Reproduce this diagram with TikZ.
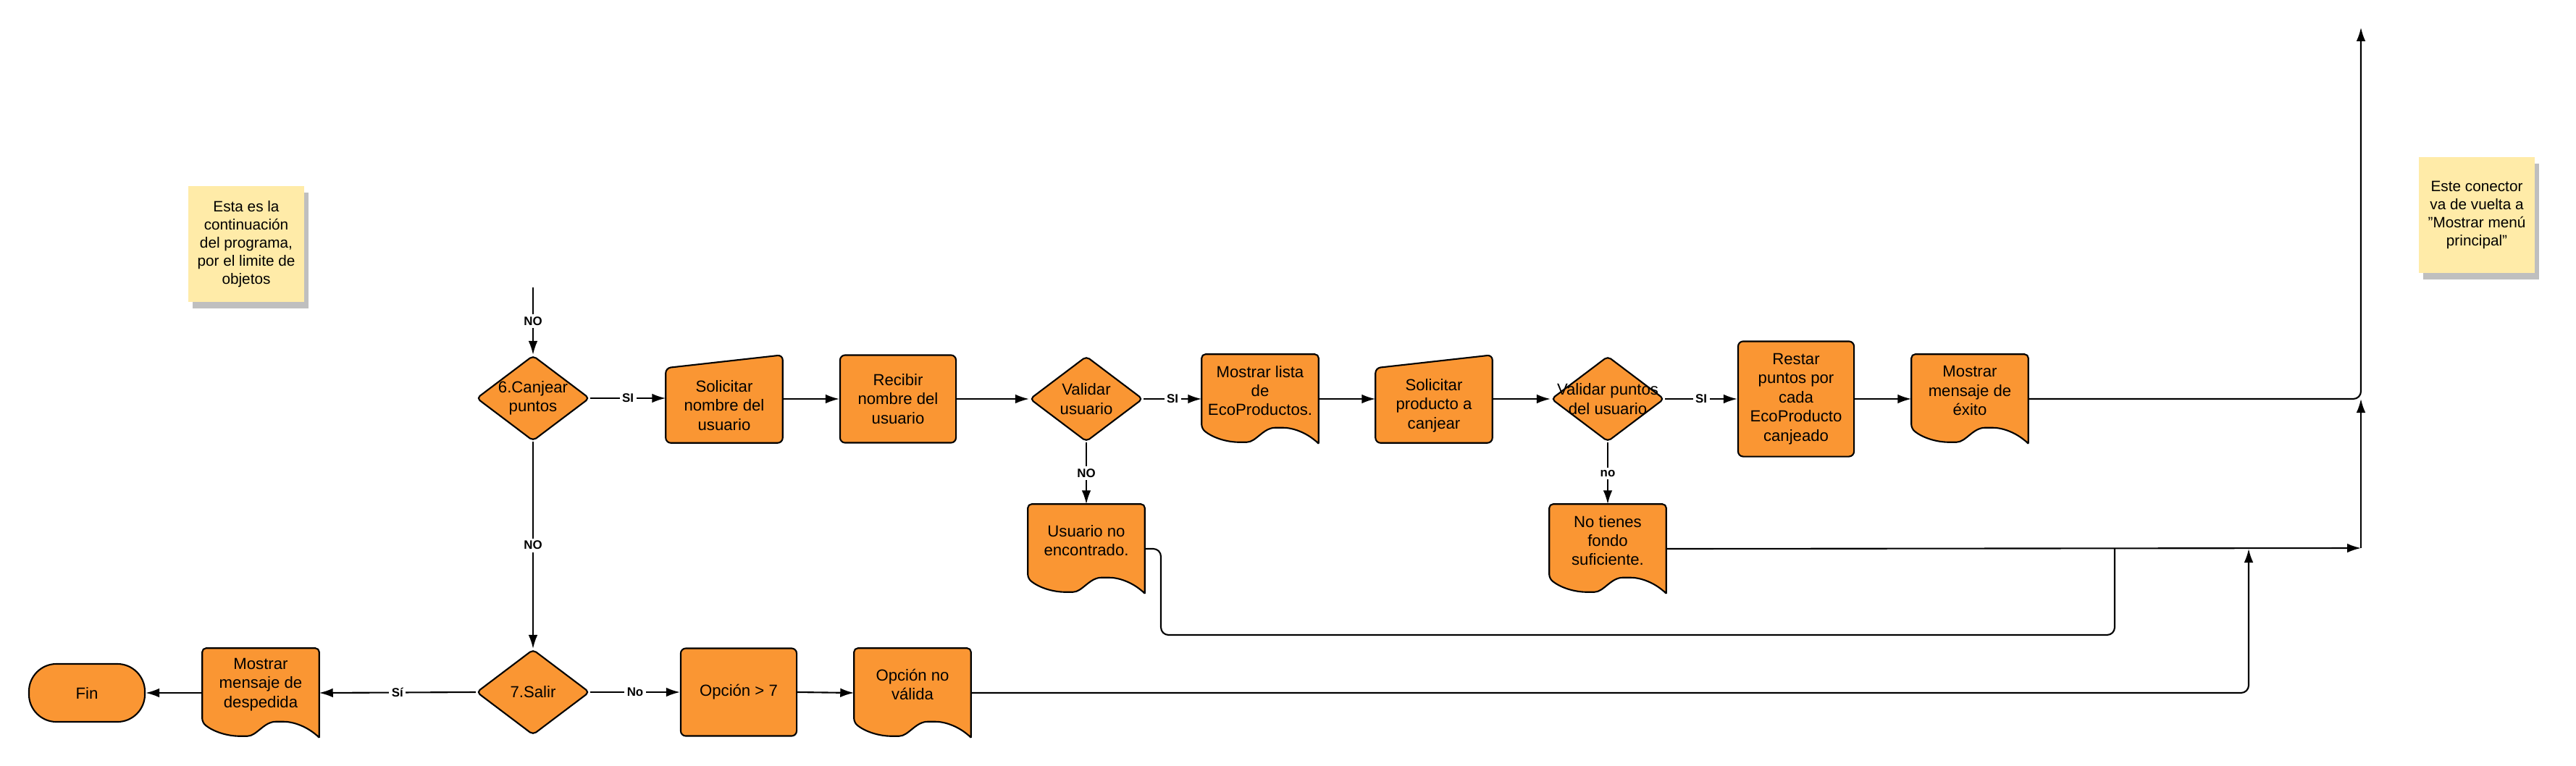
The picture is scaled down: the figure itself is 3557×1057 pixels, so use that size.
\documentclass[tikz,border=0pt]{standalone}
\usepackage{fontspec}
\setmainfont{Liberation Sans}
\usetikzlibrary{shapes.geometric, arrows.meta, calc, backgrounds, shadows}

\definecolor{naranja}{HTML}{FA9633}
\definecolor{amarillonota}{HTML}{FFEBA8}

\newcommand{\textoforma}{\fontsize{6.3}{7.5}\selectfont}
\newcommand{\textonota}{\fontsize{5.9}{7.1}\selectfont}
\newcommand{\textoetiq}{\fontsize{4.8}{5.5}\selectfont\bfseries}

\tikzset{
  forma/.style={fill=naranja, draw=black, line width=0.6pt},
  proceso/.style={forma, rounded corners=2pt, minimum width=1.6cm, minimum height=1.21cm, inner sep=0pt, align=center, font=\textoforma},
  decision/.style={forma, diamond, rounded corners=1.5pt, minimum width=1.56cm, minimum height=1.18cm, inner sep=0pt},
  textodec/.style={align=center, font=\textoforma, inner sep=0pt},
  documento/.style={minimum width=1.6cm, minimum height=1.22cm, inner sep=0pt},
  textodoc/.style={align=center, font=\textoforma, inner sep=0pt, yshift=0.115cm},
  entrada/.style={minimum width=1.6cm, minimum height=1.02cm, inner sep=0pt, align=center, font=\textoforma},
  terminal/.style={forma, rounded corners=0.38cm, minimum width=1.6cm, minimum height=0.8cm, font=\textoforma},
  notabox/.style={fill=amarillonota, minimum width=1.6cm, minimum height=1.6cm, align=center, font=\textonota, inner sep=0pt,
    drop shadow={shadow xshift=0.6mm, shadow yshift=-0.9mm, fill=black, opacity=0.25}},
  flujo/.style={line width=0.6pt, -{Latex[length=5.4pt, width=3.6pt]}},
  linea/.style={line width=0.6pt},
  etiq/.style={font=\textoetiq, fill=white, inner sep=1pt},
}

\begin{document}
\begin{tikzpicture}[x=0.01cm, y=-0.01cm]
  \useasboundingbox (0,0) rectangle (3557,1057);

  % notas
  \node[notabox] (nota1) at (340,337) {Esta es la\\continuación\\del programa,\\por el limite de\\objetos};
  \node[notabox] (nota2) at (3420,297) {Este conector\\va de vuelta a\\"Mostrar menú\\principal"};

  % fila superior
  \node[decision, label={[textodec]center:6.Canjear\\puntos}] (canjear) at (736,550) {};
  \node[entrada] (solnom) at (1000,560) {Solicitar\\nombre del\\usuario};
  \node[proceso] (recibir) at (1240,551) {Recibir\\nombre del\\usuario};
  \node[decision, label={[textodec]center:Validar\\usuario}] (valusu) at (1500,551) {};
  \node[documento, label={[textodoc]center:Mostrar lista\\de\\EcoProductos.}] (lista) at (1740,551) {};
  \node[entrada] (solprod) at (1980,560) {Solicitar\\producto a\\canjear};
  \node[decision, label={[textodec]center:Validar puntos\\del usuario}] (valpun) at (2220,551) {};
  \node[proceso, minimum height=1.59cm] (restar) at (2480,551) {Restar\\puntos por\\cada\\EcoProducto\\canjeado};
  \node[documento, label={[textodoc]center:Mostrar\\mensaje de\\éxito}] (exito) at (2720,551) {};

  % fila media
  \node[documento, label={[textodoc]center:Usuario no\\encontrado.}] (usuario) at (1500,758) {};
  \node[documento, label={[textodoc]center:No tienes\\fondo\\suficiente.}] (fondo) at (2220,758) {};

  % fila inferior
  \node[decision, label={[textodec]center:7.Salir}] (salir) at (736,956) {};
  \node[documento, label={[textodoc]center:Mostrar\\mensaje de\\despedida}] (despedida) at (360,957) {};
  \node[terminal] (fin) at (120,957) {Fin};
  \node[proceso] (mayor7) at (1020,956) {Opción > 7};
  \node[documento, label={[textodoc]center:Opción no\\válida}] (opcnv) at (1260,957) {};

  % formas de documento y entrada manual
  \begin{scope}[on background layer]
    \foreach \n in {lista,exito,usuario,fondo,despedida,opcnv} {
      \filldraw[forma, rounded corners=1.5pt] (\n.south east) -- (\n.north east) -- (\n.north west) -- ($(\n.south west)+(0,-21)$)
        .. controls ($(\n.south west)+(15,-8)$) and ($(\n.south west)+(35,-2)$) .. ($(\n.south west)+(57,-2)$)
        .. controls ($(\n.south west)+(75,-2)$) and ($(\n.south west)+(85,-22)$) .. ($(\n.south west)+(107,-22)$)
        .. controls ($(\n.south west)+(125,-22)$) and ($(\n.south west)+(145,-16)$) .. (\n.south east);
    }
    \foreach \n in {solnom,solprod} {
      \filldraw[forma, rounded corners=2pt] (\n.south west) -- (\n.north west) -- ($(\n.north east)+(0,-18)$) -- (\n.south east) -- cycle;
    }
  \end{scope}

  % puntos libres
  \coordinate (desde) at (736,397);
  \coordinate (menu) at (3260,38);
  \coordinate (j1) at (2920,757);
  \coordinate (r1) at (1603,877);
  \coordinate (j2) at (3105,758);
  \coordinate (j3) at (3260,757);
  \coordinate (j4) at (3260,551);

  % conectores
  \draw[flujo] (desde) -- node[etiq] {NO} (canjear.north);
  \draw[flujo] (canjear.east) -- node[etiq] {SI} (canjear.east -| solnom.west);
  \draw[flujo] (recibir.west -| solnom.east) -- (recibir.west);
  \draw[flujo] (recibir.east) -- (valusu.west);
  \draw[flujo] (valusu.east) -- node[etiq] {SI} (lista.west);
  \draw[flujo] (lista.east) -- (lista.east -| solprod.west);
  \draw[flujo] (valpun.west -| solprod.east) -- (valpun.west);
  \draw[flujo] (valpun.east) -- node[etiq] {SI} (restar.west);
  \draw[flujo] (restar.east) -- (exito.west);
  \draw[flujo, rounded corners=3pt] (exito.east) -| (menu);

  \draw[flujo] (valusu.south) -- node[etiq] {NO} (usuario.north);
  \draw[flujo] (valpun.south) -- node[etiq] {no} (fondo.north);
  \draw[linea, rounded corners=3pt] (usuario.east) -| (r1) -| (j1);
  \draw[flujo] (fondo.east) -- (j3);
  \draw[flujo] (j3) -- (j4);

  \draw[flujo] (canjear.south) -- node[etiq] {NO} (salir.north);
  \draw[flujo] (salir.west) -- node[etiq] {Sí} (despedida.east);
  \draw[flujo] (despedida.west) -- (fin.east);
  \draw[flujo] (salir.east) -- node[etiq] {No} (mayor7.west);
  \draw[flujo] (mayor7.east) -- (opcnv.west);
  \draw[flujo, rounded corners=3pt] (opcnv.east) -| (j2);
\end{tikzpicture}
\end{document}
